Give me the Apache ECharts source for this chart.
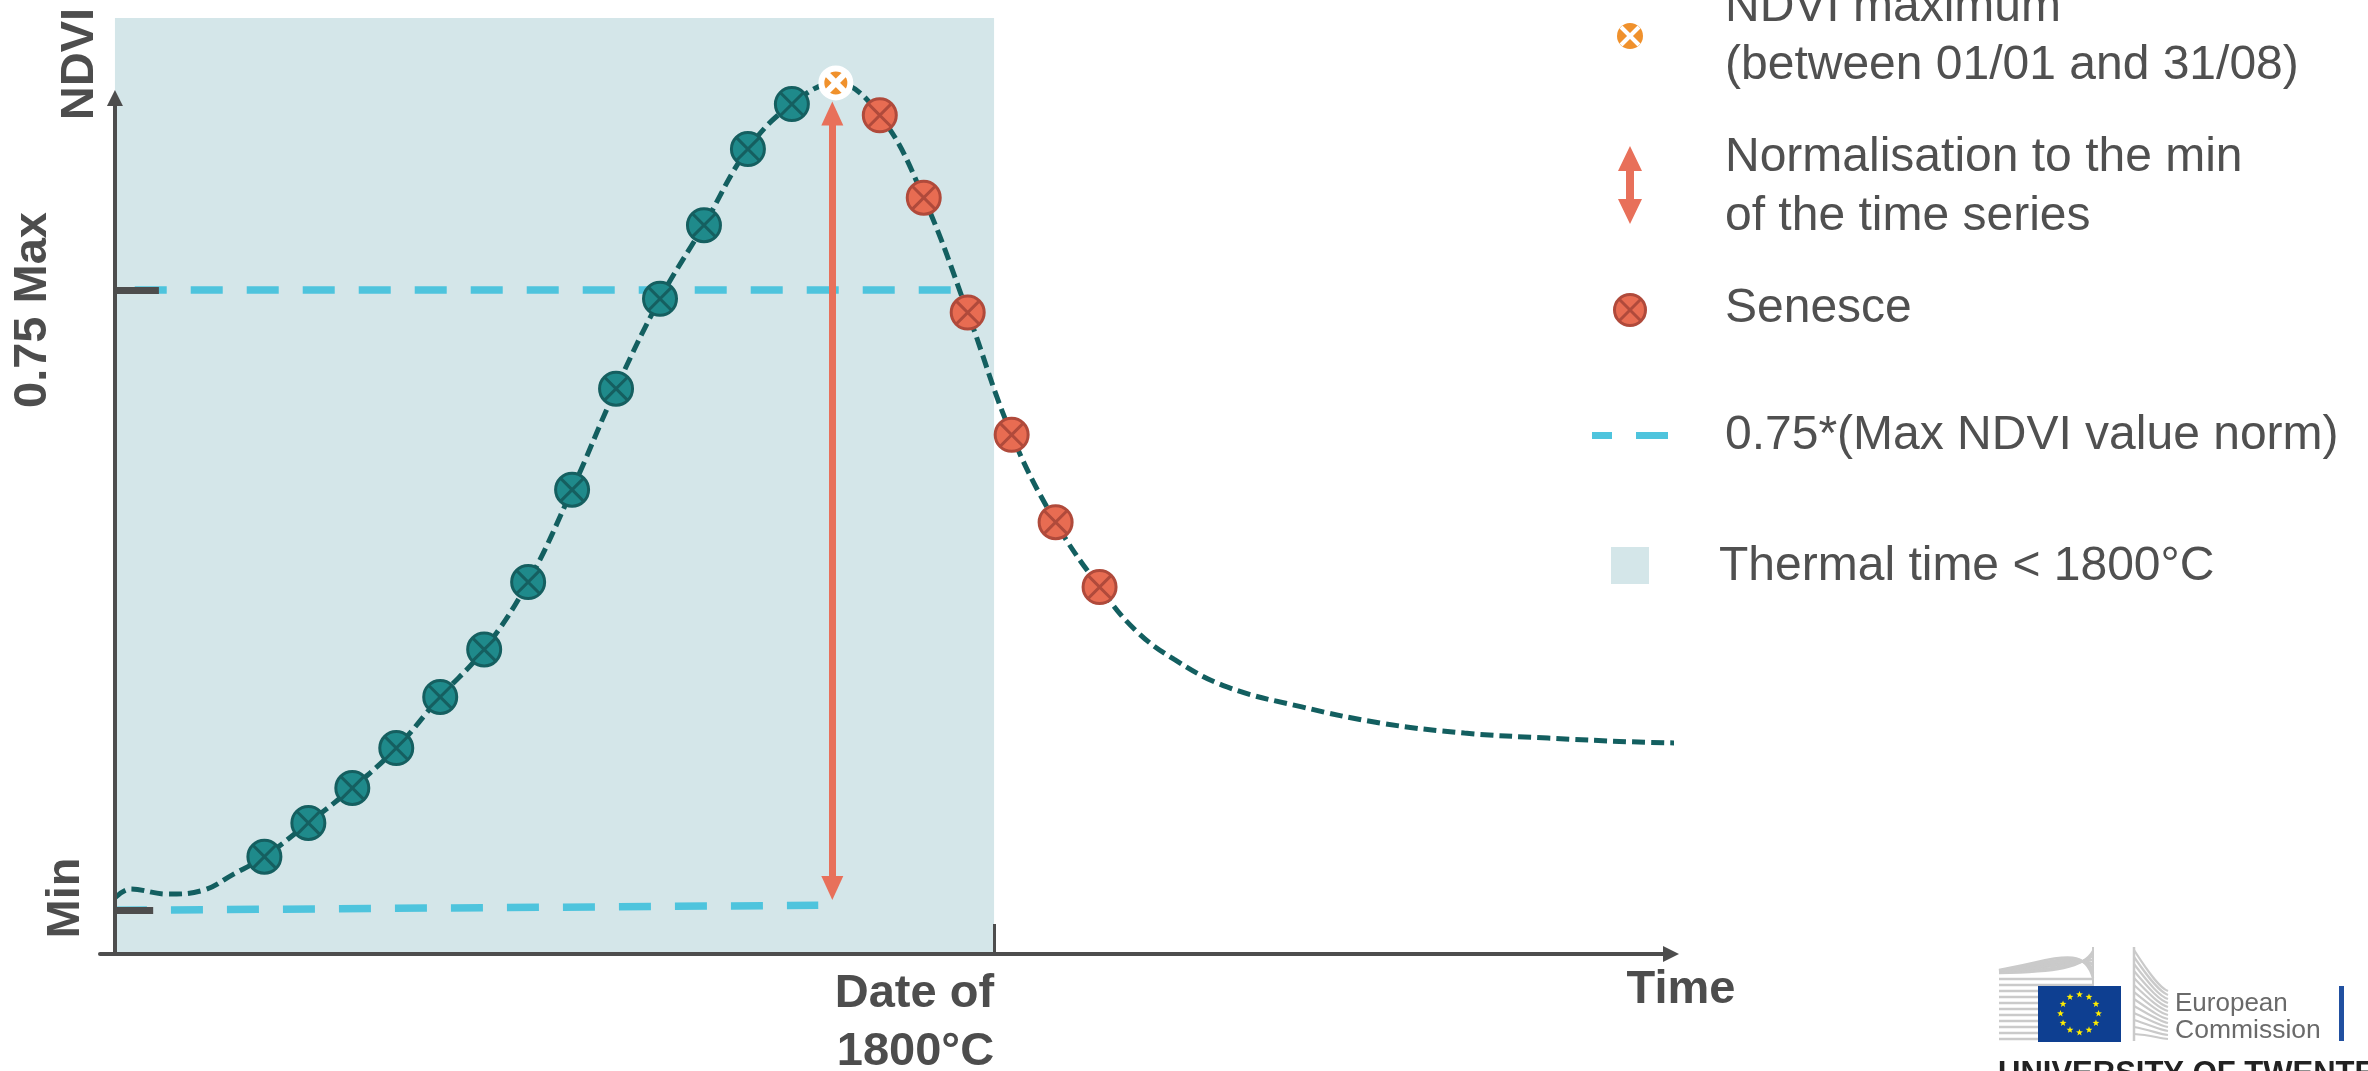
<!DOCTYPE html>
<html>
<head>
<meta charset="utf-8">
<script src="https://cdn.jsdelivr.net/npm/echarts@6/dist/echarts.min.js"></script>
<style>
html,body{margin:0;padding:0;background:#ffffff;}
#c{width:2368px;height:1071px;}
</style>
</head>
<body>
<div id="c"></div>
<script>
// ---------------- data ----------------
// time axis in days, NDVI on the value axis
const greenupDays = [34, 44, 54, 64, 74, 84, 94, 104, 114, 124, 134, 144, 154];
const greenupNdvi = [0.178, 0.205, 0.233, 0.265, 0.306, 0.344, 0.398, 0.472, 0.553, 0.625, 0.684, 0.745, 0.781];
const maxDay = 164;
const maxNdvi = 0.798;
const senesceDays = [174, 184, 194, 204, 214, 224];
const senesceNdvi = [0.772, 0.706, 0.614, 0.516, 0.446, 0.394];
const headDays = [0, 3.5, 12, 20, 27];
const headNdvi = [0.145, 0.152, 0.148, 0.151, 0.164];
const tailDays = [232, 241, 253, 270, 288, 307, 326, 345, 357];
const tailNdvi = [0.360, 0.336, 0.314, 0.298, 0.285, 0.277, 0.273, 0.270, 0.269];
const minNdvi = 0.135;          // min line, left end
const minNdviRight = 0.139;     // min line, right end (slightly tilted in the figure)
const minLineDays = [0, 160];
const levelLineDays = [4.5, 190.3];
const levelFactor = 0.75;
const thermalDate = 200;        // date of 1800°C
const normArrowDay = 163.2;
const normArrowTips = [0.1433, 0.783];
const yAxisTop = 0.7923;
const xTickValues = [thermalDate];
const xTickLabels = ['Date of\n1800°C'];
const yLabelTexts = ['NDVI', '0.75 Max', 'Min'];
const xAxisName = 'Time';
const legendTexts = [
  ['NDVI maximum', '(between 01/01 and 31/08)'],
  ['Normalisation to the min', 'of the time series'],
  ['Senesce'],
  ['0.75*(Max NDVI value norm)'],
  ['Thermal time < 1800°C']
];

// ---------------- chart ----------------
const xMin = -3.4, xMax = 354, yMinAxis = 0.1, yMaxAxis = 0.85;
const gridBox = {left: 100, right: 697, top: 18, bottom: 117};
const gridHeightPx = 1071 - gridBox.top - gridBox.bottom;
const pxPerNdvi = gridHeightPx / (yMaxAxis - yMinAxis);
const level75 = minNdvi + levelFactor * (maxNdvi - minNdvi);

const pts = (ds, vs) => ds.map((d, i) => [d, vs[i]]);
const greenupPts = pts(greenupDays, greenupNdvi);
const senescePts = pts(senesceDays, senesceNdvi);
const curvePts = [].concat(pts(headDays, headNdvi), greenupPts, [[maxDay, maxNdvi]], senescePts, pts(tailDays, tailNdvi));

const C = {
  axis: '#4d4d4d', text: '#505050', shade: '#d4e6e9', cyan: '#4ec4dd',
  curve: '#135f60', teal: '#1f8a8b', tealDark: '#155f60',
  red: '#e86c52', redDark: '#b04a3b', orange: '#f0912c', arrow: '#e8705a'
};
const FONT = '"Liberation Sans", Arial, Helvetica, sans-serif';
const xSymbol = 'path://M0,-10A10,10,0,1,1,0,10A10,10,0,1,1,0,-10ZM-7.07,-7.07L7.07,7.07M7.07,-7.07L-7.07,7.07';

const ARROW_HEAD = 24, AXIS_HEAD = 16;
const headOff = (px) => px / 2 / pxPerNdvi;

const markLineBase = {silent: true, animation: false, label: {show: false}, emphasis: {disabled: true}};

const series = [
  { // thermal time shading
    name: 'Thermal time < 1800°C', type: 'line', data: [], z: 1, silent: true,
    markArea: {
      silent: true, z: 1, label: {show: false}, emphasis: {disabled: true},
      itemStyle: {color: C.shade},
      data: [[{coord: [0, yMinAxis]}, {coord: [thermalDate, yMaxAxis]}]]
    }
  },
  { // 0.75 level and min level dashed lines
    name: '0.75*(Max NDVI value norm)', type: 'line', data: [], z: 2, silent: true,
    markLine: Object.assign({}, markLineBase, {
      z: 2, symbol: 'none',
      lineStyle: {color: C.cyan, width: 7.5, type: [32, 24], opacity: 1},
      data: [
        [{coord: [levelLineDays[0], level75]}, {coord: [levelLineDays[1], level75]}],
        [{coord: [minLineDays[0], minNdvi]}, {coord: [minLineDays[1], minNdviRight]}]
      ]
    })
  },
  { // NDVI curve
    name: 'NDVI', type: 'line', data: curvePts, smooth: 0.4, symbol: 'none', z: 3,
    clip: false, silent: true, animation: false,
    lineStyle: {color: C.curve, width: 5, type: [13, 6]}
  },
  { // y axis arrow and level ticks
    name: 'axis', type: 'line', data: [], z: 4, silent: true,
    markLine: Object.assign({}, markLineBase, {
      z: 4, symbol: ['none', 'triangle'], symbolSize: [AXIS_HEAD, AXIS_HEAD],
      lineStyle: {color: C.axis, width: 4, type: 'solid', opacity: 1},
      data: [
        [{coord: [0, yMinAxis]}, {coord: [0, yAxisTop - headOff(AXIS_HEAD)]}],
        [{coord: [0, level75], symbol: 'none'}, {coord: [10, level75], symbol: 'none', lineStyle: {width: 7}}],
        [{coord: [0, minNdvi], symbol: 'none'}, {coord: [8.7, minNdvi], symbol: 'none', lineStyle: {width: 7}}]
      ]
    })
  },
  { // green-up points
    name: 'Green-up', type: 'scatter', data: greenupPts, symbol: xSymbol, symbolSize: 33, z: 6,
    silent: true, animation: false,
    itemStyle: {color: C.teal, borderColor: C.tealDark, borderWidth: 3, opacity: 1}
  },
  { // senesce points
    name: 'Senesce', type: 'scatter', data: senescePts, symbol: xSymbol, symbolSize: 33, z: 6,
    silent: true, animation: false,
    itemStyle: {color: C.red, borderColor: C.redDark, borderWidth: 3, opacity: 1}
  },
  { // normalisation double arrow
    name: 'Normalisation', type: 'line', data: [], z: 7, silent: true,
    markLine: Object.assign({}, markLineBase, {
      z: 7, symbol: ['triangle', 'triangle'], symbolSize: [22, ARROW_HEAD],
      lineStyle: {color: C.arrow, width: 7, type: 'solid', opacity: 1},
      data: [[{coord: [normArrowDay, normArrowTips[0] + headOff(ARROW_HEAD)]},
              {coord: [normArrowDay, normArrowTips[1] - headOff(ARROW_HEAD)]}]]
    })
  },
  { // NDVI maximum
    name: 'NDVI maximum', type: 'scatter', data: [[maxDay, maxNdvi]], symbol: xSymbol, symbolSize: 29, z: 8,
    silent: true, animation: false,
    itemStyle: {color: C.orange, borderColor: '#ffffff', borderWidth: 6, opacity: 1}
  }
];

// ---------------- graphic: axis titles, legend, logo ----------------
const g = [];
const boldText = (text, x, y, rot, extra) => Object.assign({
  type: 'text', x: x, y: y, rotation: rot || 0, silent: true, z: 20,
  style: {text: text, font: 'bold 47px ' + FONT, fill: C.axis, align: 'center', verticalAlign: 'middle'}
}, extra || {});
g.push(boldText(yLabelTexts[0], 80, 64, Math.PI / 2));
g.push(boldText(yLabelTexts[1], 33, 310, Math.PI / 2));
g.push(boldText(yLabelTexts[2], 66, 898, Math.PI / 2));
g.push(boldText(xAxisName, 1681, 990, 0));

// legend
const LX = 1725, LFS = 48;
const legText = (t, x, y) => ({type: 'text', x: x, y: y, silent: true, z: 20,
  style: {text: t, font: LFS + 'px ' + FONT, fill: C.text, align: 'left', verticalAlign: 'middle'}});
g.push(legText(legendTexts[0][0], LX, 8));
g.push(legText(legendTexts[0][1], LX, 66));
g.push(legText(legendTexts[1][0], LX, 158));
g.push(legText(legendTexts[1][1], LX, 217));
g.push(legText(legendTexts[2][0], LX, 309));
g.push(legText(legendTexts[3][0], LX, 436));
g.push(legText(legendTexts[4][0], 1719, 567));
// icon 1: orange max
g.push({type: 'circle', silent: true, z: 20, shape: {cx: 1630, cy: 36, r: 13}, style: {fill: C.orange}});
g.push({type: 'line', silent: true, z: 21, shape: {x1: 1621, y1: 27, x2: 1639, y2: 45}, style: {stroke: '#fff', lineWidth: 4}});
g.push({type: 'line', silent: true, z: 21, shape: {x1: 1639, y1: 27, x2: 1621, y2: 45}, style: {stroke: '#fff', lineWidth: 4}});
// icon 2: double arrow
g.push({type: 'polygon', silent: true, z: 20, style: {fill: C.arrow},
  shape: {points: [[1630, 146], [1642, 171], [1634, 171], [1634, 199], [1642, 199], [1630, 224], [1618, 199], [1626, 199], [1626, 171], [1618, 171]]}});
// icon 3: senesce
g.push({type: 'circle', silent: true, z: 20, shape: {cx: 1630, cy: 310, r: 15.5}, style: {fill: C.red, stroke: C.redDark, lineWidth: 3}});
g.push({type: 'line', silent: true, z: 21, shape: {x1: 1619, y1: 299, x2: 1641, y2: 321}, style: {stroke: C.redDark, lineWidth: 3}});
g.push({type: 'line', silent: true, z: 21, shape: {x1: 1641, y1: 299, x2: 1619, y2: 321}, style: {stroke: C.redDark, lineWidth: 3}});
// icon 4: cyan dashes
g.push({type: 'rect', silent: true, z: 20, shape: {x: 1592, y: 432, width: 20, height: 7}, style: {fill: C.cyan}});
g.push({type: 'rect', silent: true, z: 20, shape: {x: 1636, y: 432, width: 32, height: 7}, style: {fill: C.cyan}});
// icon 5: shaded square
g.push({type: 'rect', silent: true, z: 20, shape: {x: 1611, y: 547, width: 38, height: 37}, style: {fill: C.shade}});

// logo: European Commission + University of Twente
const grey = '#cacaca';
for (let i = 0; i < 11; i++) {
  const y = 979 + i * 6;
  g.push({type: 'line', silent: true, z: 20, shape: {x1: 1999, y1: y, x2: 2093, y2: y}, style: {stroke: grey, lineWidth: 2.5}});
}
for (let i = 0; i < 7; i++) {
  g.push({type: 'bezierCurve', silent: true, z: 20,
    shape: {x1: 1999, y1: 973 - i * 0.5, cpx1: 2055, cpy1: 972 - i * 2, cpx2: 2084, cpy2: 968 - i * 4, x2: 2093, y2: 951 + i * 4.5},
    style: {stroke: grey, lineWidth: 2.5, fill: null}});
}
g.push({type: 'line', silent: true, z: 20, shape: {x1: 2093, y1: 947, x2: 2093, y2: 986}, style: {stroke: grey, lineWidth: 2}});
g.push({type: 'line', silent: true, z: 20, shape: {x1: 2134, y1: 947, x2: 2134, y2: 1041}, style: {stroke: grey, lineWidth: 2.5}});
for (let i = 0; i < 13; i++) {
  g.push({type: 'bezierCurve', silent: true, z: 20,
    shape: {x1: 2134, y1: 950 + i * 7, cpx1: 2150, cpy1: 975 + i * 5, cpx2: 2160, cpy2: 988 + i * 4.2, x2: 2168, y2: 991 + i * 4},
    style: {stroke: grey, lineWidth: 2.2, fill: null}});
}
g.push({type: 'rect', silent: true, z: 21, shape: {x: 2038, y: 986, width: 83, height: 56}, style: {fill: '#0e3f91'}});
for (let i = 0; i < 12; i++) {
  const a = i * Math.PI / 6;
  const cx = 2079.5 + 19 * Math.cos(a), cy = 1013.5 + 19 * Math.sin(a);
  const p = [];
  for (let k = 0; k < 10; k++) {
    const r = k % 2 === 0 ? 3.6 : 1.5;
    const b = -Math.PI / 2 + k * Math.PI / 5;
    p.push([cx + r * Math.cos(b), cy + r * Math.sin(b)]);
  }
  g.push({type: 'polygon', silent: true, z: 22, shape: {points: p}, style: {fill: '#ffed00'}});
}
g.push({type: 'text', x: 2175, y: 1004, silent: true, z: 21,
  style: {text: 'European', font: '26px ' + FONT, fill: '#6a6a6a', align: 'left', verticalAlign: 'middle'}});
g.push({type: 'text', x: 2175, y: 1031, silent: true, z: 21,
  style: {text: 'Commission', font: '26.5px ' + FONT, fill: '#6a6a6a', align: 'left', verticalAlign: 'middle'}});
g.push({type: 'rect', silent: true, z: 21, shape: {x: 2339, y: 986, width: 5, height: 55}, style: {fill: '#2150a0'}});
g.push({type: 'text', x: 1998, y: 1074, silent: true, z: 21,
  style: {text: 'UNIVERSITY OF TWENTE', font: 'bold 31px ' + FONT, fill: '#222222', align: 'left', verticalAlign: 'middle'}});

const option = {
  animation: false,
  backgroundColor: '#ffffff',
  textStyle: {fontFamily: FONT},
  grid: Object.assign({containLabel: false, outerBoundsMode: 'none'}, gridBox),
  xAxis: {
    type: 'value', min: xMin, max: xMax, z: 5,
    splitLine: {show: false},
    axisLine: {show: true, onZero: false, symbol: ['none', 'triangle'], symbolSize: [AXIS_HEAD, AXIS_HEAD],
      lineStyle: {color: C.axis, width: 4}},
    axisTick: {show: true, inside: true, length: 30, customValues: xTickValues,
      lineStyle: {color: C.axis, width: 3}},
    axisLabel: {show: true, customValues: xTickValues,
      formatter: (v) => xTickLabels[xTickValues.indexOf(v)] || '',
      align: 'right', margin: 11, lineHeight: 58,
      fontSize: 47, fontWeight: 'bold', color: C.axis, fontFamily: FONT}
  },
  yAxis: {
    type: 'value', min: yMinAxis, max: yMaxAxis,
    splitLine: {show: false}, axisLine: {show: false}, axisTick: {show: false}, axisLabel: {show: false}
  },
  series: series,
  graphic: g
};
const chart = echarts.init(document.getElementById('c'), null, {renderer: 'canvas'});
chart.setOption(option);
</script>
</body>
</html>
